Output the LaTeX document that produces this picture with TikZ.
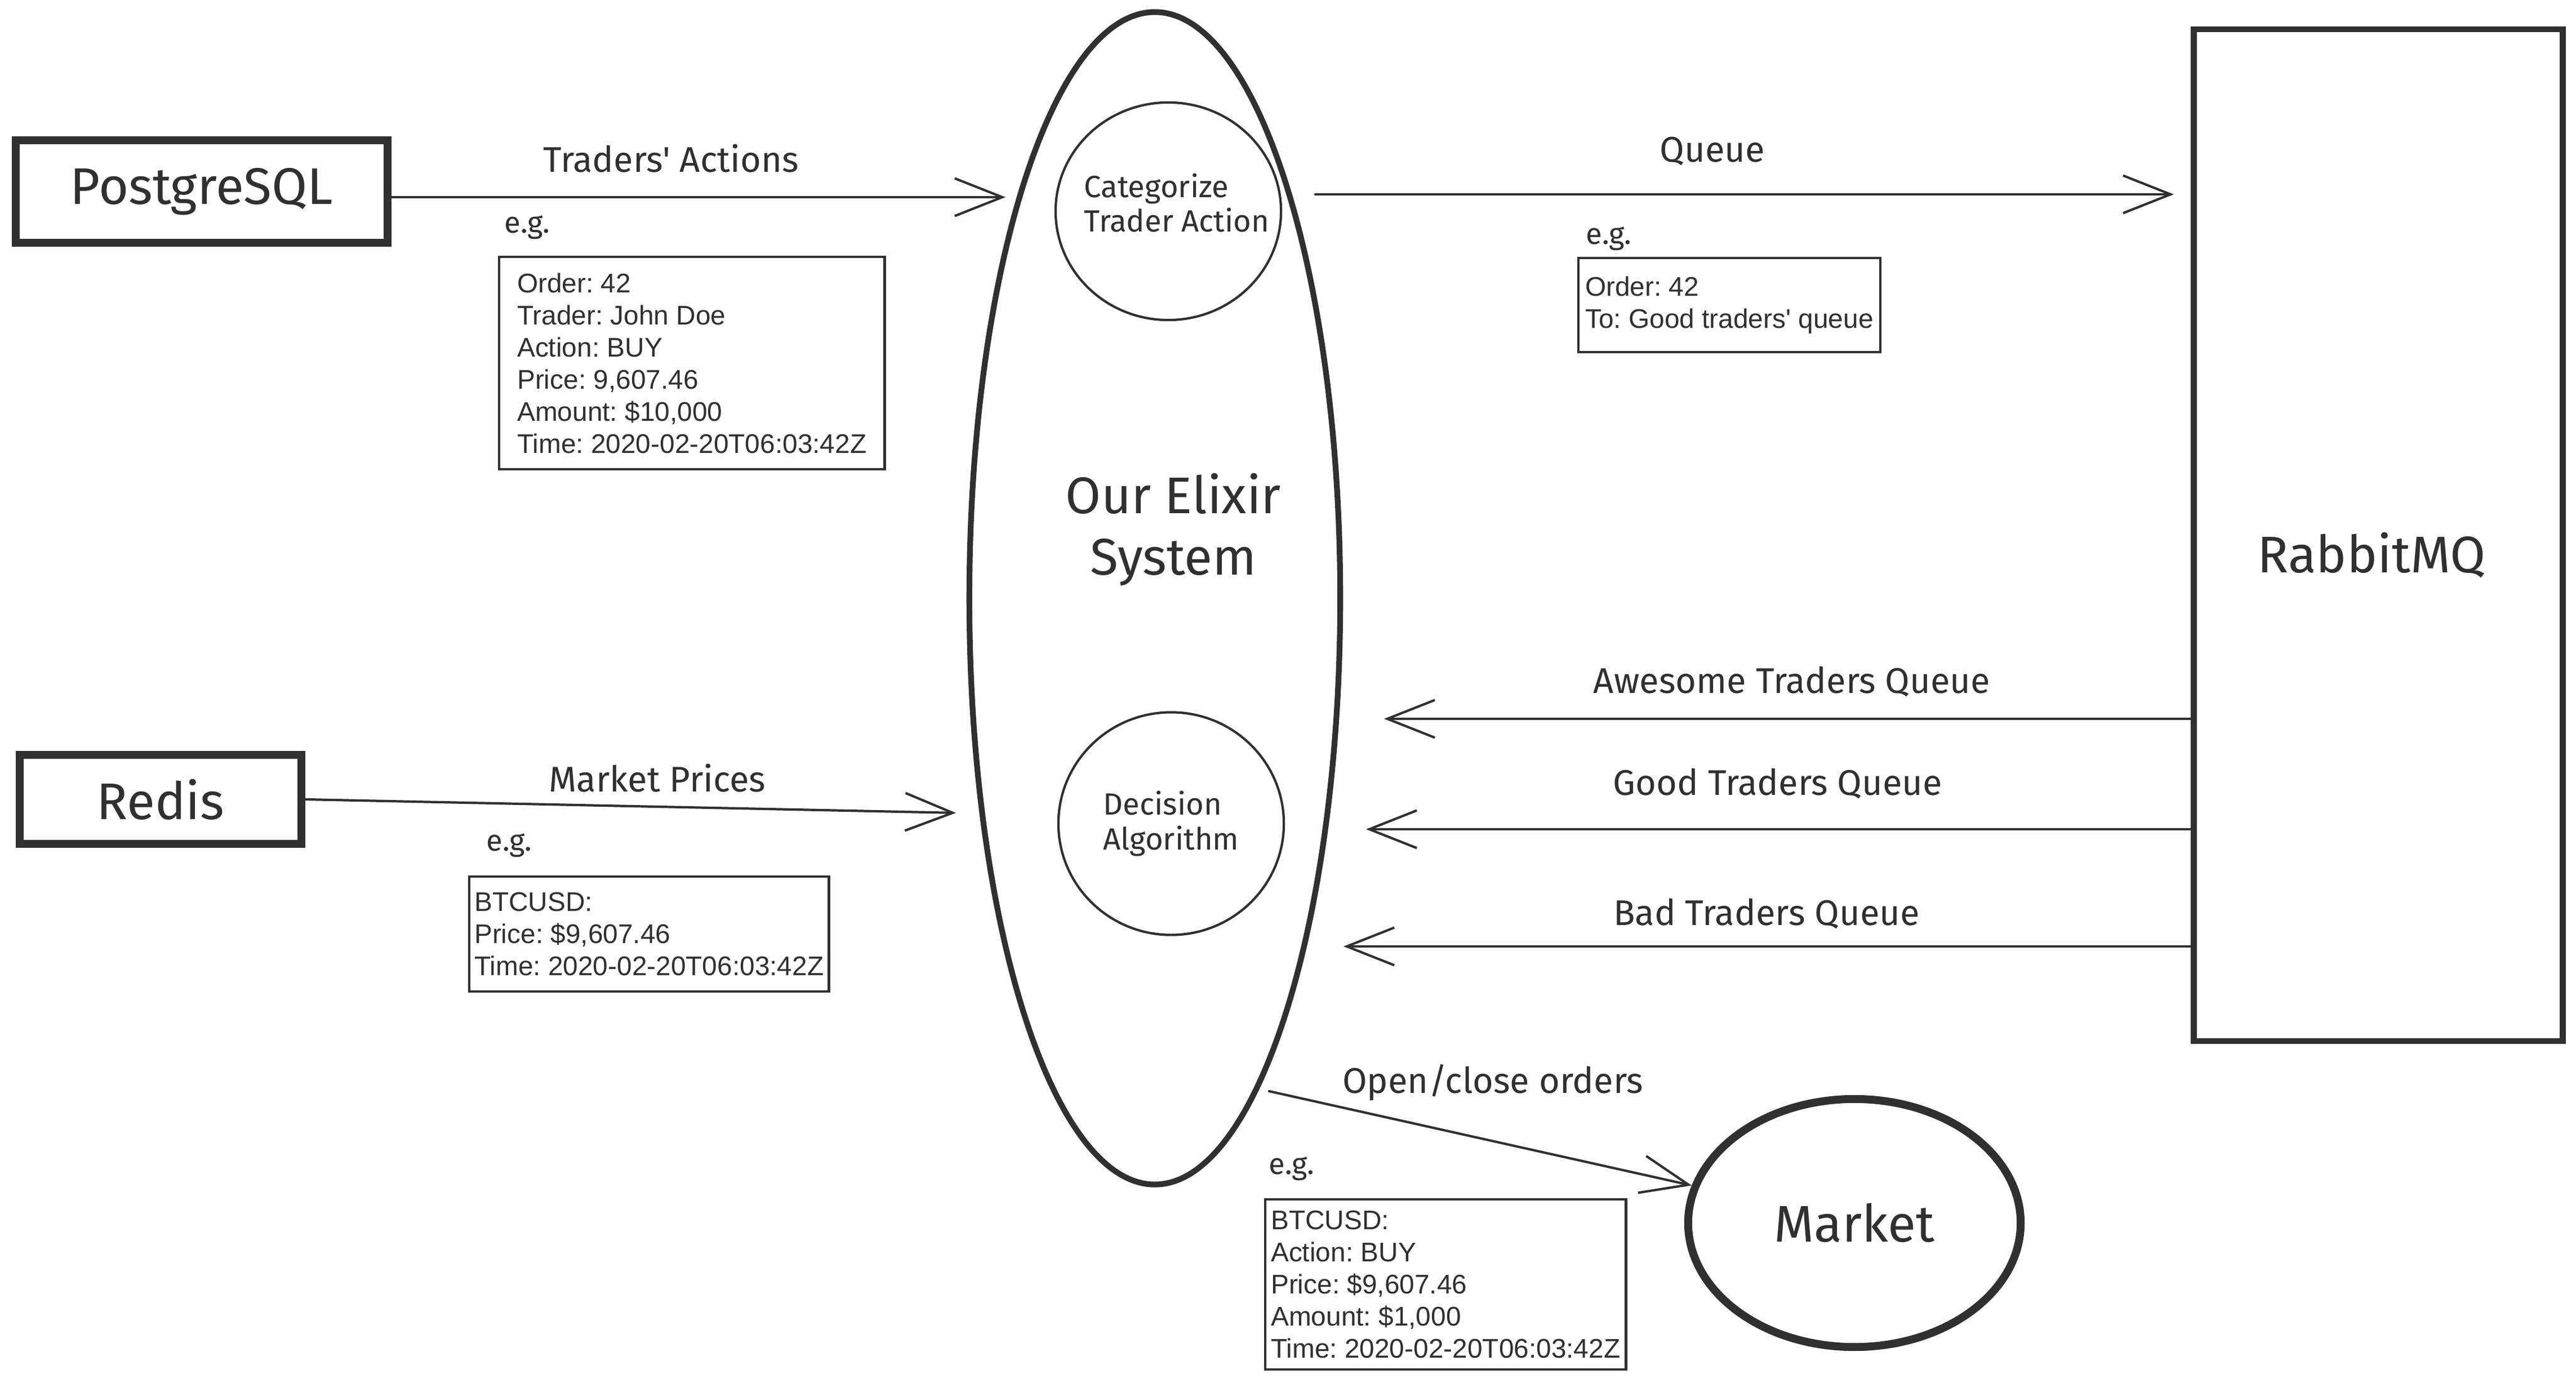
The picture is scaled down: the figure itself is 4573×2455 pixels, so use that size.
\documentclass[tikz,border=0pt]{standalone}
\usepackage{fontspec}
\setmainfont{Liberation Sans}
\newfontfamily\handfont{Fira Sans}
\usetikzlibrary{arrows.meta, shapes.geometric}
\definecolor{ink}{RGB}{48,48,48}
\frenchspacing

\begin{document}
\begin{tikzpicture}[
    x=0.01cm, y=-0.01cm, % one unit is one pixel of the sketch
    >={Straight Barb[length=24pt,width=19pt]}, % open sketch arrow tips
    store/.style={draw=ink, line width=4pt, rectangle, inner sep=0pt, text=ink,
      font=\handfont\fontsize{26}{31}\selectfont}, % PostgreSQL, Redis
    system/.style={draw=ink, line width=2.9pt, ellipse, inner sep=0pt}, % the big ellipse
    worker/.style={draw=ink, line width=1.2pt, ellipse, inner sep=0pt}, % small circles
    worker text/.style={text=ink, align=left, font=\handfont\fontsize{15.5}{17.5}\selectfont},
    flow/.style={->, draw=ink, line width=1.2pt, line cap=round}, % connectors
    lbl/.style={text=ink, font=\handfont\fontsize{18}{22}\selectfont}, % arrow labels
    eg/.style={text=ink, font=\handfont\fontsize{15}{18}\selectfont}, % e.g. marks
    sample/.style={draw=ink, line width=1.2pt, align=left, anchor=north west, text=ink,
      inner ysep=0pt, font=\fontsize{13.6}{16.2}\selectfont} % example messages
  ]

  \useasboundingbox[fill=white] (0,0) rectangle (4573,2455);

  % --- Sources ---
  \node[store, minimum width=6.59cm, minimum height=1.81cm] (pg) at (358,340) {PostgreSQL};
  \node[store, minimum width=5.0cm, minimum height=1.58cm] (redis) at (285,1419) {Redis};

  % --- Our system ---
  \node[system, minimum width=6.58cm, minimum height=20.8cm] (elixir) at (2050,1062) {};
  \node[text=ink, align=center, font=\handfont\fontsize{26}{31}\selectfont] (elixir label) at (2083,940) {Our Elixir\\System};
  \node[worker, minimum width=4.0cm, minimum height=3.86cm,
    label={[worker text, xshift=0.15cm, yshift=0.15cm]center:Categorize\\Trader Action}] (categorize) at (2074,375) {};
  \node[worker, minimum width=4.0cm, minimum height=3.95cm,
    label={[worker text]center:Decision\\Algorithm}] (decision) at (2079,1462) {};

  % --- Broker and market ---
  \node[draw=ink, line width=3pt, rectangle, minimum width=6.55cm, minimum height=17.95cm,
    label={[text=ink, xshift=-0.12cm, yshift=-0.36cm, font=\handfont\fontsize{26}{31}\selectfont]center:RabbitMQ}] (rabbit) at (4222,950) {};
  \node[draw=ink, line width=4pt, ellipse, inner sep=0pt, minimum width=5.9cm, minimum height=4.4cm,
    text=ink, font=\handfont\fontsize{26}{31}\selectfont] (market) at (3292,2171) {Market};

  % --- Traders' actions in ---
  \coordinate (ta tip) at (1785,350);
  \draw[flow] (pg.east |- ta tip) -- (ta tip);
  \node[lbl] (ta label) at (1191,281) {Traders' Actions};
  \node[eg] (ta eg) at (936,404) {e.g.};
  \node[sample, inner xsep=0.32cm, minimum height=3.77cm] (ta box) at (884,454)
    {Order: 42\\Trader: John Doe\\Action: BUY\\Price: 9,607.46\\Amount: \$10,000\\Time: 2020-02-20T06:03:42Z};

  % --- Queue out ---
  \coordinate (q start) at (2335,345);
  \draw[flow, shorten >=0.3cm] (q start) -- (q start -| rabbit.west);
  \node[lbl] (q label) at (3040,269) {Queue};
  \node[eg] (q eg) at (2856,424) {e.g.};
  \node[sample, inner xsep=0.12cm, minimum height=1.67cm] (q box) at (2800,456)
    {Order: 42\\To: Good traders\textquotesingle{} queue};

  % --- Queues back from RabbitMQ ---
  \foreach \qname/\tipx/\tipy/\labx/\laby in {Awesome/2457/1276/3181/1210, Good/2425/1472/3156/1391, Bad/2385/1680/3136/1622} {
    \coordinate (\qname tip) at (\tipx,\tipy);
    \draw[flow] (rabbit.west |- \qname tip) -- (\qname tip);
    \node[lbl] (\qname label) at (\labx,\laby) {\qname{} Traders Queue};
  }

  % --- Market prices in ---
  \coordinate (mp tip) at (1697,1443);
  \draw[flow] (redis.east) -- (mp tip);
  \node[lbl] (mp label) at (1167,1381) {Market Prices};
  \node[eg] (mp eg) at (904,1501) {e.g.};
  \node[sample, inner xsep=0.09cm, minimum height=2.04cm] (mp box) at (831,1554)
    {BTCUSD:\\Price: \$9,607.46\\Time: 2020-02-20T06:03:42Z};

  % --- Orders out to the market ---
  \coordinate (oc start) at (2253,1937);
  \draw[flow] (oc start) -- (market.167);
  \node[lbl] (oc label) at (2650,1922) {Open/close orders};
  \node[eg] (oc eg) at (2293,2075) {e.g.};
  \node[sample, inner xsep=0.1cm, minimum height=3.02cm] (oc box) at (2244,2127)
    {BTCUSD:\\Action: BUY\\Price: \$9,607.46\\Amount: \$1,000\\Time: 2020-02-20T06:03:42Z};

\end{tikzpicture}
\end{document}
